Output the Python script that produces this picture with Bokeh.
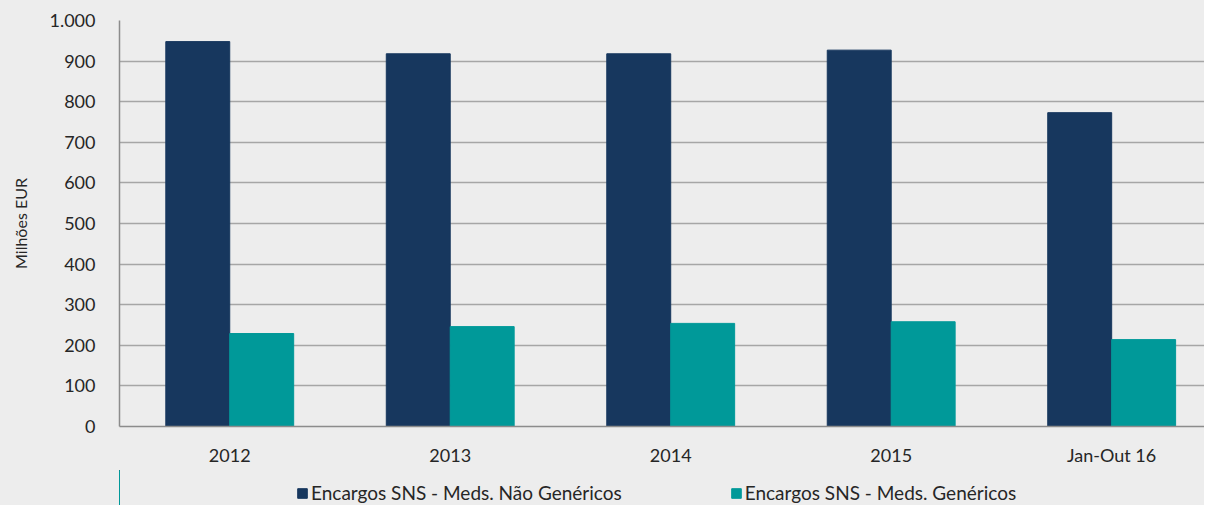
from bokeh.plotting import figure
from bokeh.layouts import column
from bokeh.models import ColumnDataSource, FixedTicker, Legend, LegendItem, Range1d
from bokeh.embed import file_html
from bokeh.resources import INLINE

categories = ["2012", "2013", "2014", "2015", "Jan-Out 16"]
nao_genericos = [948, 918, 918, 927, 773]
genericos = [229, 246, 254, 258, 214]
y_ticks = [0, 100, 200, 300, 400, 500, 600, 700, 800, 900, 1000]
y_tick_labels = ["0", "100", "200", "300", "400", "500", "600", "700", "800", "900", "1.000"]
series_names = ["Encargos SNS - Meds. Não Genéricos", "Encargos SNS - Meds. Genéricos"]

BG = "#ededed"
DARK = "#17375e"
TEAL = "#009999"
FONT = "Lato"
TXT = "#262626"

xs = list(range(len(categories)))
src = ColumnDataSource(dict(
    x1=[x - 0.145 for x in xs], x2=[x + 0.145 for x in xs],
    a=nao_genericos, b=genericos))

p = figure(width=1204, height=470, output_backend="svg", toolbar_location=None,
           x_range=Range1d(-0.5, 4.421), y_range=Range1d(0, 1000),
           background_fill_color=BG, border_fill_color=BG,
           min_border_left=119, min_border_top=20, min_border_right=0, min_border_bottom=44)
p.outline_line_color = None

p.vbar(x="x1", top="a", width=0.29, source=src, fill_color=DARK, line_color=DARK)
p.vbar(x="x2", top="b", width=0.29, source=src, fill_color=TEAL, line_color=TEAL)

p.yaxis.ticker = FixedTicker(ticks=y_ticks)
p.yaxis.major_label_overrides = {t: l for t, l in zip(y_ticks, y_tick_labels)}
p.xaxis.ticker = FixedTicker(ticks=xs)
p.xaxis.major_label_overrides = {x: c for x, c in zip(xs, categories)}

for ax in (p.xaxis, p.yaxis):
    ax.major_tick_line_color = None
    ax.minor_tick_line_color = None
    ax.axis_line_color = "#8c8c8c"
    ax.axis_line_width = 1.5
    ax.major_label_text_font = FONT
    ax.major_label_text_font_size = "18px"
    ax.major_label_text_color = TXT

p.xaxis.major_label_standoff = 11
p.yaxis.major_label_standoff = 18
p.yaxis.axis_label = "Milhões EUR"
p.yaxis.axis_label_text_font = FONT
p.yaxis.axis_label_text_font_size = "16px"
p.yaxis.axis_label_text_font_style = "normal"
p.yaxis.axis_label_text_color = TXT
p.yaxis.axis_label_standoff = 16

p.xgrid.grid_line_color = None
p.ygrid.grid_line_color = "#a6a6a6"
p.ygrid.grid_line_width = 1.5

# legend row (its bars lie outside its own range, only the legend shows)
lg = figure(width=1204, height=35, output_backend="svg", toolbar_location=None,
            x_range=Range1d(100, 101), y_range=Range1d(0, 1),
            x_axis_type=None, y_axis_type=None,
            background_fill_color=None, border_fill_color=None,
            min_border_left=119, min_border_right=0, min_border_top=0, min_border_bottom=0)
lg.outline_line_color = None
lg.xgrid.visible = False
lg.ygrid.visible = False
l1 = lg.vbar(x="x1", top="a", width=0.29, source=src, fill_color=DARK, line_color=DARK)
l2 = lg.vbar(x="x2", top="b", width=0.29, source=src, fill_color=TEAL, line_color=TEAL)

legend = Legend(items=[LegendItem(label=series_names[0], renderers=[l1]),
                       LegendItem(label=series_names[1], renderers=[l2])],
                orientation="horizontal", location=(177, 1),
                background_fill_alpha=0, border_line_color=None,
                label_text_font=FONT, label_text_font_size="19px", label_text_color=TXT,
                glyph_width=12, glyph_height=12, label_standoff=3, spacing=108,
                padding=0, margin=0)
lg.add_layout(legend, "center")

layout = column(p, lg, spacing=0, styles={"background-color": BG})
open("out.html", "w").write(file_html(layout, INLINE))
